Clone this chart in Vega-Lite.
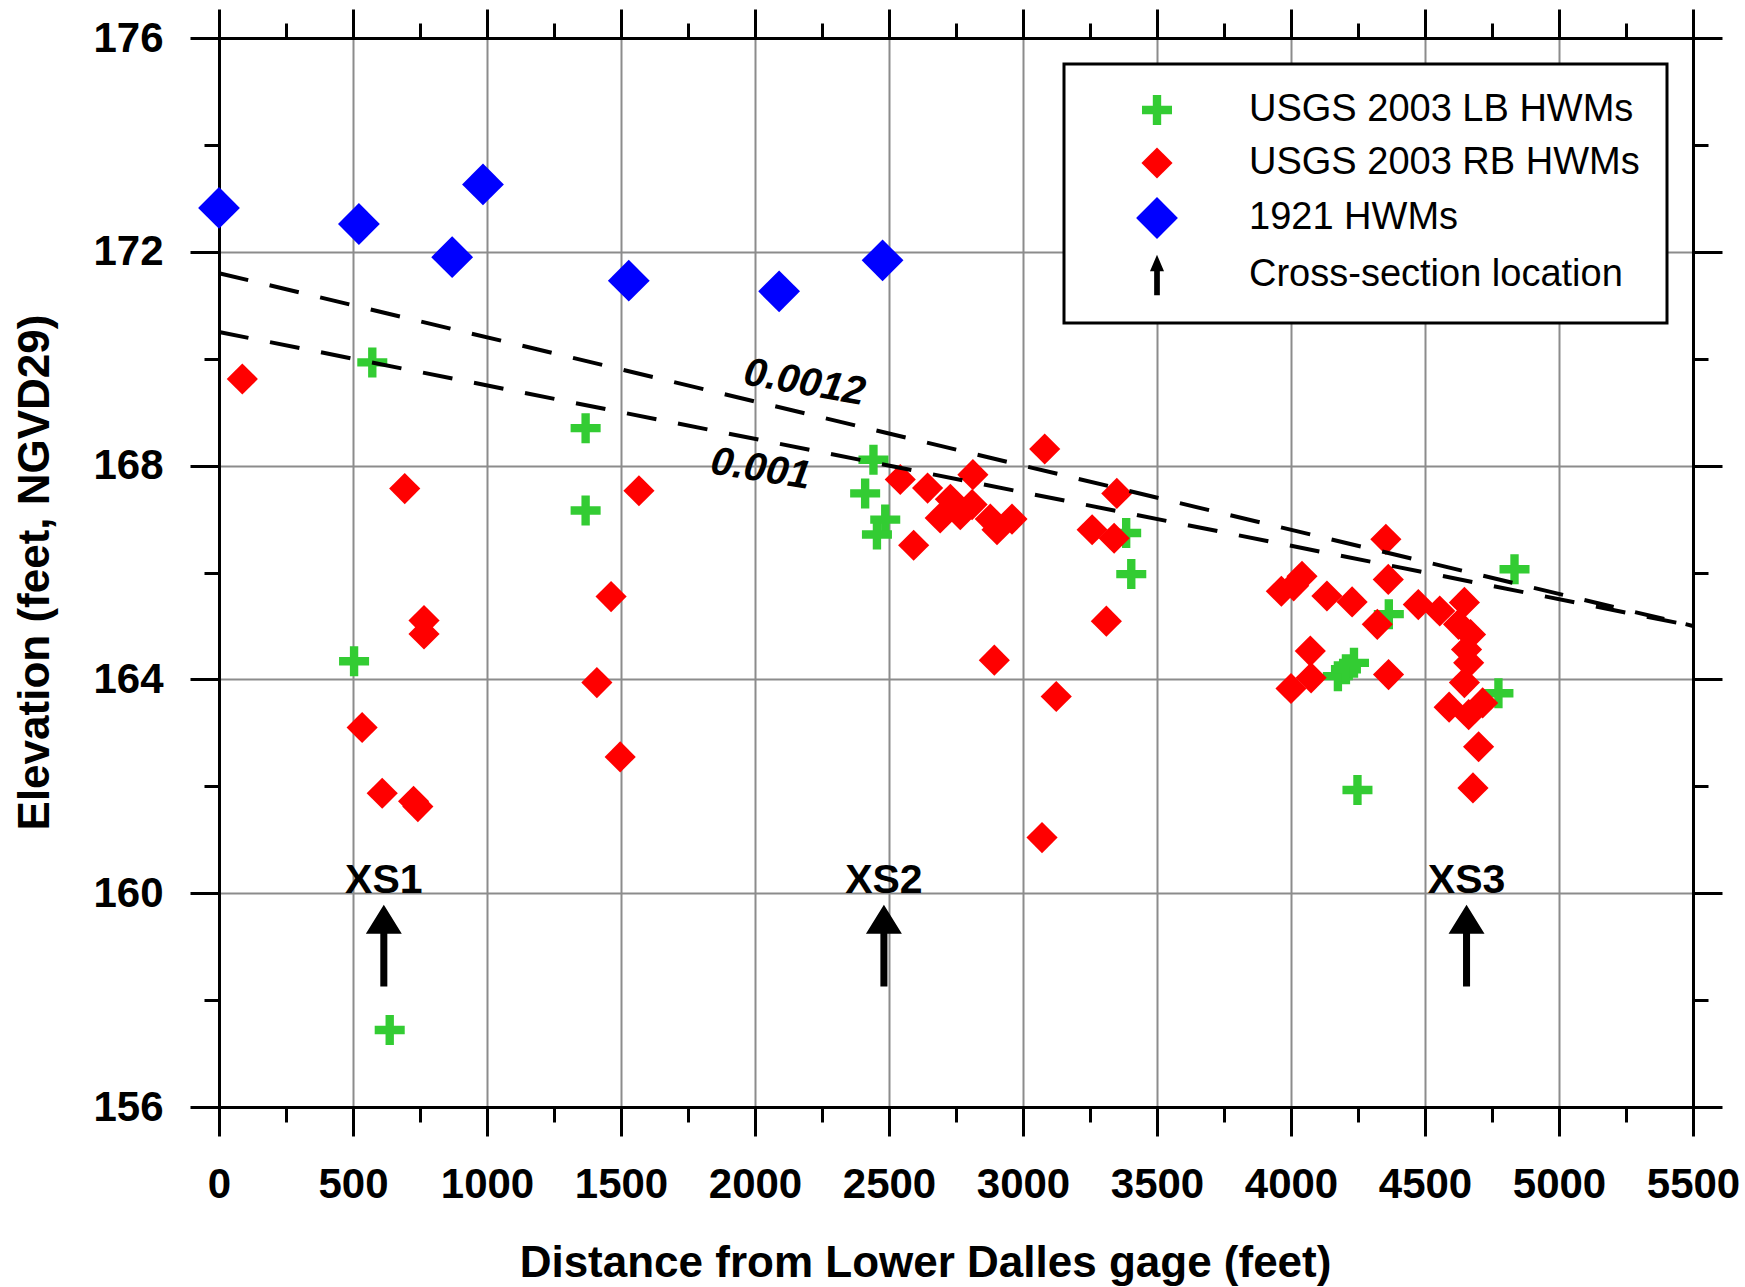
{
  "$schema": "https://vega.github.io/schema/vega-lite/v6.json",
  "width": 1474,
  "height": 1069,
  "autosize": {"type": "none"},
  "padding": {"left": 219, "top": 38, "right": 52, "bottom": 180},
  "background": "white",
  "config": {
    "view": {"stroke": null},
    "font": "Liberation Sans",
    "axis": {
      "labelFont": "Liberation Sans", "titleFont": "Liberation Sans",
      "labelFontSize": 42, "labelFontWeight": "bold", "labelColor": "#000000",
      "titleFontSize": 44, "titleFontWeight": "bold", "titleColor": "#000000",
      "domainColor": "#000000", "domainWidth": 3, "domainCap": "square",
      "tickColor": "#000000", "tickWidth": 3,
      "gridColor": "#8c8c8c", "gridWidth": 2, "gridOpacity": 1,
      "labelFlush": false, "labelOverlap": false, "labelBound": false
    },
    "legend": {
      "strokeWidth": 3
    }
  },
  "datasets": {
    "points": [
      {"series": "USGS 2003 LB HWMs", "x": 572, "y": 169.93},
      {"series": "USGS 2003 LB HWMs", "x": 504, "y": 164.34},
      {"series": "USGS 2003 LB HWMs", "x": 637, "y": 157.44},
      {"series": "USGS 2003 LB HWMs", "x": 1368, "y": 168.70},
      {"series": "USGS 2003 LB HWMs", "x": 1368, "y": 167.16},
      {"series": "USGS 2003 LB HWMs", "x": 2442, "y": 168.11},
      {"series": "USGS 2003 LB HWMs", "x": 2411, "y": 167.48},
      {"series": "USGS 2003 LB HWMs", "x": 2486, "y": 166.99},
      {"series": "USGS 2003 LB HWMs", "x": 2455, "y": 166.71},
      {"series": "USGS 2003 LB HWMs", "x": 3385, "y": 166.74},
      {"series": "USGS 2003 LB HWMs", "x": 3404, "y": 165.97},
      {"series": "USGS 2003 LB HWMs", "x": 4365, "y": 165.22},
      {"series": "USGS 2003 LB HWMs", "x": 4175, "y": 164.06},
      {"series": "USGS 2003 LB HWMs", "x": 4205, "y": 164.19},
      {"series": "USGS 2003 LB HWMs", "x": 4235, "y": 164.31},
      {"series": "USGS 2003 LB HWMs", "x": 4248, "y": 161.93},
      {"series": "USGS 2003 LB HWMs", "x": 4834, "y": 166.06},
      {"series": "USGS 2003 LB HWMs", "x": 4774, "y": 163.74},
      {"series": "USGS 2003 RB HWMs", "x": 87, "y": 169.62},
      {"series": "USGS 2003 RB HWMs", "x": 693, "y": 167.57},
      {"series": "USGS 2003 RB HWMs", "x": 765, "y": 165.10},
      {"series": "USGS 2003 RB HWMs", "x": 765, "y": 164.85},
      {"series": "USGS 2003 RB HWMs", "x": 534, "y": 163.10},
      {"series": "USGS 2003 RB HWMs", "x": 609, "y": 161.87},
      {"series": "USGS 2003 RB HWMs", "x": 726, "y": 161.72},
      {"series": "USGS 2003 RB HWMs", "x": 742, "y": 161.62},
      {"series": "USGS 2003 RB HWMs", "x": 1567, "y": 167.53},
      {"series": "USGS 2003 RB HWMs", "x": 1463, "y": 165.55},
      {"series": "USGS 2003 RB HWMs", "x": 1410, "y": 163.94},
      {"series": "USGS 2003 RB HWMs", "x": 1497, "y": 162.55},
      {"series": "USGS 2003 RB HWMs", "x": 2542, "y": 167.74},
      {"series": "USGS 2003 RB HWMs", "x": 2644, "y": 167.58},
      {"series": "USGS 2003 RB HWMs", "x": 2729, "y": 167.37},
      {"series": "USGS 2003 RB HWMs", "x": 2691, "y": 167.02},
      {"series": "USGS 2003 RB HWMs", "x": 2766, "y": 167.08},
      {"series": "USGS 2003 RB HWMs", "x": 2813, "y": 167.83},
      {"series": "USGS 2003 RB HWMs", "x": 2810, "y": 167.27},
      {"series": "USGS 2003 RB HWMs", "x": 2903, "y": 166.80},
      {"series": "USGS 2003 RB HWMs", "x": 2959, "y": 167.00},
      {"series": "USGS 2003 RB HWMs", "x": 2878, "y": 167.00},
      {"series": "USGS 2003 RB HWMs", "x": 2592, "y": 166.51},
      {"series": "USGS 2003 RB HWMs", "x": 2893, "y": 164.36},
      {"series": "USGS 2003 RB HWMs", "x": 3081, "y": 168.31},
      {"series": "USGS 2003 RB HWMs", "x": 3071, "y": 161.04},
      {"series": "USGS 2003 RB HWMs", "x": 3124, "y": 163.68},
      {"series": "USGS 2003 RB HWMs", "x": 3350, "y": 167.48},
      {"series": "USGS 2003 RB HWMs", "x": 3258, "y": 166.80},
      {"series": "USGS 2003 RB HWMs", "x": 3340, "y": 166.64},
      {"series": "USGS 2003 RB HWMs", "x": 3311, "y": 165.09},
      {"series": "USGS 2003 RB HWMs", "x": 3964, "y": 165.65},
      {"series": "USGS 2003 RB HWMs", "x": 4010, "y": 165.75},
      {"series": "USGS 2003 RB HWMs", "x": 4041, "y": 165.93},
      {"series": "USGS 2003 RB HWMs", "x": 4134, "y": 165.56},
      {"series": "USGS 2003 RB HWMs", "x": 4228, "y": 165.45},
      {"series": "USGS 2003 RB HWMs", "x": 4322, "y": 165.03},
      {"series": "USGS 2003 RB HWMs", "x": 4072, "y": 164.53},
      {"series": "USGS 2003 RB HWMs", "x": 4000, "y": 163.83},
      {"series": "USGS 2003 RB HWMs", "x": 4075, "y": 164.03},
      {"series": "USGS 2003 RB HWMs", "x": 4364, "y": 164.09},
      {"series": "USGS 2003 RB HWMs", "x": 4354, "y": 166.62},
      {"series": "USGS 2003 RB HWMs", "x": 4363, "y": 165.87},
      {"series": "USGS 2003 RB HWMs", "x": 4475, "y": 165.40},
      {"series": "USGS 2003 RB HWMs", "x": 4555, "y": 165.28},
      {"series": "USGS 2003 RB HWMs", "x": 4625, "y": 165.03},
      {"series": "USGS 2003 RB HWMs", "x": 4647, "y": 165.44},
      {"series": "USGS 2003 RB HWMs", "x": 4670, "y": 164.84},
      {"series": "USGS 2003 RB HWMs", "x": 4655, "y": 164.56},
      {"series": "USGS 2003 RB HWMs", "x": 4663, "y": 164.31},
      {"series": "USGS 2003 RB HWMs", "x": 4647, "y": 163.94},
      {"series": "USGS 2003 RB HWMs", "x": 4590, "y": 163.48},
      {"series": "USGS 2003 RB HWMs", "x": 4663, "y": 163.34},
      {"series": "USGS 2003 RB HWMs", "x": 4715, "y": 163.56},
      {"series": "USGS 2003 RB HWMs", "x": 4700, "y": 162.74},
      {"series": "USGS 2003 RB HWMs", "x": 4679, "y": 161.97},
      {"series": "1921 HWMs", "x": 0, "y": 172.82},
      {"series": "1921 HWMs", "x": 522, "y": 172.52},
      {"series": "1921 HWMs", "x": 870, "y": 171.90},
      {"series": "1921 HWMs", "x": 985, "y": 173.26},
      {"series": "1921 HWMs", "x": 1529, "y": 171.46},
      {"series": "1921 HWMs", "x": 2090, "y": 171.26},
      {"series": "1921 HWMs", "x": 2476, "y": 171.84}
    ],
    "lines": [
      {"line": "0.0012", "x": 0, "y": 171.6},
      {"line": "0.0012", "x": 5500, "y": 165.0},
      {"line": "0.001", "x": 0, "y": 170.5},
      {"line": "0.001", "x": 5500, "y": 165.0}
    ],
    "slopeLabels": [
      {"label": "0.0012", "x": 2185, "y": 169.55},
      {"label": "0.001", "x": 2021, "y": 167.93}
    ],
    "sections": [
      {"name": "XS1", "x": 615},
      {"name": "XS2", "x": 2481},
      {"name": "XS3", "x": 4655}
    ]
  },
  "layer": [
    {
      "data": {"name": "points"},
      "mark": {"type": "point", "filled": true, "size": 1444, "opacity": 1, "strokeWidth": 0},
      "encoding": {
        "x": {"field": "x", "type": "quantitative",
          "scale": {"domain": [0, 5500], "nice": false, "zero": false},
          "axis": {"orient": "top", "values": [0,500,1000,1500,2000,2500,3000,3500,4000,4500,5000,5500], "labels": false, "grid": false, "tickSize": 29, "title": null}},
        "y": {"field": "y", "type": "quantitative",
          "scale": {"domain": [156, 176], "nice": false, "zero": false},
          "axis": {"orient": "right", "values": [156,160,164,168,172,176], "labels": false, "grid": false, "tickSize": 29, "title": null}},
        "color": {"field": "series", "type": "nominal",
          "scale": {"domain": ["USGS 2003 LB HWMs", "USGS 2003 RB HWMs", "1921 HWMs", "Cross-section location"],
                    "range": ["#33cc33", "#ff0000", "#0000ff", "#000000"]},
          "legend": {"orient": "top-right", "offset": 26, "title": null, "padding": 27,
            "strokeColor": "#000000", "fillColor": "#ffffff",
            "symbolSize": 1444, "symbolStrokeWidth": 0, "symbolOffset": 47, "labelOffset": 73,
            "rowPadding": 15, "labelFont": "Liberation Sans", "labelFontSize": 38, "labelFontWeight": "normal",
            "labelColor": "#000000", "labelLimit": 0}},
        "shape": {"field": "series", "type": "nominal",
          "scale": {"domain": ["USGS 2003 LB HWMs", "USGS 2003 RB HWMs", "1921 HWMs", "Cross-section location"],
                    "range": [
                      "M-0.79,-0.22L-0.22,-0.22L-0.22,-0.79L0.22,-0.79L0.22,-0.22L0.79,-0.22L0.79,0.22L0.22,0.22L0.22,0.79L-0.22,0.79L-0.22,0.22L-0.79,0.22Z",
                      "M0,-0.82L0.82,0L0,0.82L-0.82,0Z",
                      "M0,-1.1L1.1,0L0,1.1L-1.1,0Z",
                      "M0,-1.07L0.37,-0.2L0.15,-0.2L0.15,1.07L-0.15,1.07L-0.15,-0.2L-0.37,-0.2Z"
                    ]},
          "legend": {"orient": "top-right", "offset": 26, "title": null, "padding": 27,
            "strokeColor": "#000000", "fillColor": "#ffffff",
            "symbolSize": 1444, "symbolStrokeWidth": 0, "symbolOffset": 47, "labelOffset": 73,
            "rowPadding": 15, "labelFont": "Liberation Sans", "labelFontSize": 38, "labelFontWeight": "normal",
            "labelColor": "#000000", "labelLimit": 0}}
      }
    },
    {
      "data": {"name": "lines"},
      "mark": {"type": "line", "color": "#000000", "strokeWidth": 4, "strokeDash": [30, 22]},
      "encoding": {
        "x": {"field": "x", "type": "quantitative",
          "scale": {"domain": [0, 5500], "nice": false, "zero": false},
          "axis": {"orient": "bottom", "values": [0,500,1000,1500,2000,2500,3000,3500,4000,4500,5000,5500], "format": "d", "grid": true, "tickSize": 29, "labelPadding": 28,
            "title": "Distance from Lower Dalles gage (feet)", "titleX": 706, "titleY": 169, "titleBaseline": "alphabetic"}},
        "y": {"field": "y", "type": "quantitative",
          "scale": {"domain": [156, 176], "nice": false, "zero": false},
          "axis": {"orient": "left", "values": [156,160,164,168,172,176], "format": "d", "grid": true, "tickSize": 29, "labelPadding": 27,
            "title": "Elevation (feet, NGVD29)", "titleX": -171, "titleY": 534, "titleBaseline": "alphabetic"}},
        "detail": {"field": "line", "type": "nominal"}
      }
    },
    {
      "data": {"name": "slopeLabels"},
      "transform": [{"filter": "datum.label === '0.0012'"}],
      "mark": {"type": "text", "font": "Liberation Sans", "fontSize": 40, "fontWeight": "bold", "fontStyle": "italic", "angle": 10, "align": "center", "baseline": "middle", "color": "#000000"},
      "encoding": {
        "x": {"field": "x", "type": "quantitative",
          "scale": {"domain": [0, 5500], "nice": false, "zero": false},
          "axis": {"orient": "bottom", "values": [250,750,1250,1750,2250,2750,3250,3750,4250,4750,5250], "labels": false, "domain": false, "grid": false, "tickSize": 15, "title": null}},
        "y": {"field": "y", "type": "quantitative",
          "scale": {"domain": [156, 176], "nice": false, "zero": false},
          "axis": {"orient": "left", "values": [158,162,166,170,174], "labels": false, "domain": false, "grid": false, "tickSize": 15, "title": null}},
        "text": {"field": "label", "type": "nominal"}
      }
    },
    {
      "data": {"name": "slopeLabels"},
      "transform": [{"filter": "datum.label === '0.001'"}],
      "mark": {"type": "text", "font": "Liberation Sans", "fontSize": 40, "fontWeight": "bold", "fontStyle": "italic", "angle": 9, "align": "center", "baseline": "middle", "color": "#000000"},
      "encoding": {
        "x": {"field": "x", "type": "quantitative",
          "scale": {"domain": [0, 5500], "nice": false, "zero": false},
          "axis": {"orient": "top", "values": [250,750,1250,1750,2250,2750,3250,3750,4250,4750,5250], "labels": false, "domain": false, "grid": false, "tickSize": 15, "title": null}},
        "y": {"field": "y", "type": "quantitative",
          "scale": {"domain": [156, 176], "nice": false, "zero": false},
          "axis": {"orient": "right", "values": [158,162,166,170,174], "labels": false, "domain": false, "grid": false, "tickSize": 15, "title": null}},
        "text": {"field": "label", "type": "nominal"}
      }
    },
    {
      "data": {"name": "sections"},
      "mark": {"type": "point", "filled": true, "opacity": 1, "strokeWidth": 0, "color": "#000000", "size": 6675,
        "shape": "M0,-1L0.44,-0.29L0.086,-0.29L0.086,1L-0.086,1L-0.086,-0.29L-0.44,-0.29Z"},
      "encoding": {
        "x": {"field": "x", "type": "quantitative", "scale": {"domain": [0, 5500], "nice": false, "zero": false}, "axis": null},
        "y": {"datum": 159.02, "type": "quantitative", "axis": null}
      }
    },
    {
      "data": {"name": "sections"},
      "mark": {"type": "text", "font": "Liberation Sans", "fontSize": 41, "fontWeight": "bold", "align": "center", "baseline": "alphabetic", "color": "#000000"},
      "encoding": {
        "x": {"field": "x", "type": "quantitative", "scale": {"domain": [0, 5500], "nice": false, "zero": false}, "axis": null},
        "y": {"datum": 160, "type": "quantitative", "axis": null},
        "text": {"field": "name", "type": "nominal"}
      }
    }
  ],
  "resolve": {"axis": {"x": "independent", "y": "independent"}}
}
